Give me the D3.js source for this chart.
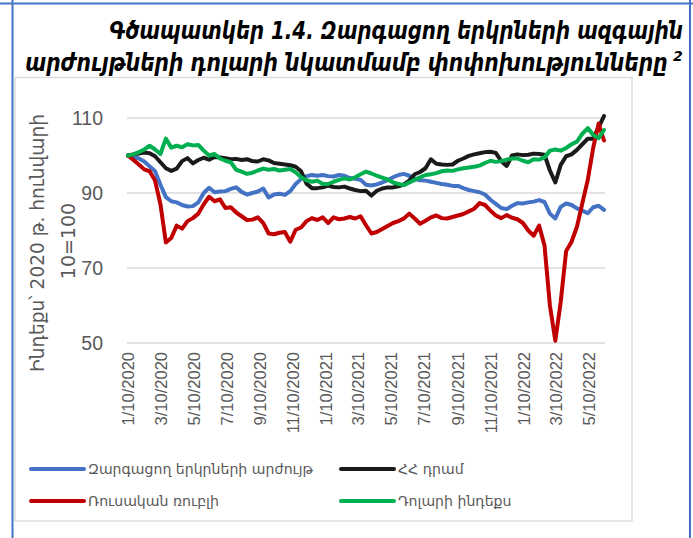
<!DOCTYPE html>
<html>
<head>
<meta charset="utf-8">
<title>Գծապատկեր 1.4</title>
<script src="https://cdn.jsdelivr.net/npm/d3@7/dist/d3.min.js"></script>
<style>
	body { margin: 0; background: #fff; }
	text { font-family: "DejaVu Sans", sans-serif; }
	.tick text { font-family: "Liberation Sans", sans-serif; fill: #595959; }
</style>
</head>
<body>
<script>
	// շարքերը՝ 10 օրը մեկ, 2020-01-10-ից
	var startDate = "2020-01-10";
	var stepDays = 10;

	var emerging = [100,99.7,99.2,98.4,97.1,95.8,92.2,88.9,87.8,87.5,86.8,86.4,86.5,87.5,90,91.4,90.2,90.4,90.5,91.1,
		91.5,90.3,89.6,90,90.4,91.2,88.8,89.6,89.8,89.5,90.5,92.4,93.7,94.5,94.8,94.6,94.8,94.5,94.4,94.8,
		94.6,94,93.8,93.5,92.2,92,92.3,92.8,93.4,94.2,94.8,95.1,94.6,93.8,93.4,93.3,93,92.7,92.4,92.2,
		91.9,91.9,91.3,90.8,90.5,90.2,89.6,88.2,87.1,86,85.7,86.6,87.3,87.2,87.5,87.7,88.1,87.6,84.5,83.2,
		86.3,87.2,86.8,85.9,85.3,84.6,86.2,86.6,85.5];
	var amd = [100,100.3,100.5,100.8,100.6,99.8,98.2,96.6,95.9,96.5,98.5,99.3,97.9,98.8,99.4,98.9,99.6,99.5,99.3,99,
		99.1,98.8,99,98.5,98.4,99,98.7,98,97.8,97.6,97.4,97,95.8,92.5,91.3,91.3,91.5,92,91.6,91.5,
		91.7,91.2,90.8,90.5,90.6,89.3,90.6,91.2,91.5,91.5,91.8,92.3,93.3,95,95.6,96.6,99,97.8,97.6,97.5,
		97.6,98.6,99.2,99.9,100.3,100.6,100.9,101,100.7,98.5,97.2,100,100.3,100.1,100.2,100.5,100.4,100.2,96,92.8,
		97.5,99.8,100.3,101.5,103,104.5,104.5,107.5,110.5];
	var rub = [100,98.8,97.6,96.3,95.8,93.3,87,76.8,78,81.3,80.5,82.5,83.3,84.5,87,89,87.8,88.3,86,86.2,
		84.8,83.8,82.8,82.9,83.5,82,79.2,79,79.4,79.6,77,80.2,80.8,82.5,83.3,82.8,83.5,82,83.5,83,
		83.2,83.6,83.2,83.8,81.4,79.2,79.6,80.4,81.2,82,82.5,83.2,84.5,83.2,81.8,82.6,83.5,84,83.3,83.2,
		83.6,84,84.4,85.1,85.8,87.3,86.8,85.3,84,83.3,84.1,83.4,83,82,80,78.6,81.3,76,60,50.6,
		61,74.5,77,81,87.3,93.5,102,108.5,104];
	var dxy = [100,100.3,100.9,101.6,102.6,101.6,100.4,104.5,102.1,102.6,102.2,103,102.7,102.8,101.3,100,100.4,99.2,98.6,98.2,
		96.2,95.7,95.1,95.4,96,96.5,96.2,96.4,96,96.2,96.4,95.5,94.2,93.4,93,93.3,92.4,92.4,93,93.5,
		93.9,93.6,94.2,95,95.7,95.2,94.6,94.1,93.6,92.8,92.4,92.1,92.8,93.5,94.2,94.8,95,95.3,95.8,96,
		95.9,96.3,96.6,96.8,97,97.3,98,98.6,98.3,98.5,98.9,99.2,99.2,98.6,98.2,99,98.9,99.5,101.3,101.6,
		101.3,102,103,103.7,105.8,107.3,105.5,104.6,106.8];

	var seriesNames = ["Զարգացող երկրների արժույթ", "ՀՀ դրամ", "Ռուսական ռուբլի", "Դոլարի ինդեքս"];
	var seriesColors = ["#4472C4", "#1a1a1a", "#C00000", "#00B050"];
	var seriesValues = [emerging, amd, rub, dxy];

	var yTicks = [50, 70, 90, 110];
	var xTickLabels = ["1/10/2020","3/10/2020","5/10/2020","7/10/2020","9/10/2020","11/10/2020",
		"1/10/2021","3/10/2021","5/10/2021","7/10/2021","9/10/2021","11/10/2021",
		"1/10/2022","3/10/2022","5/10/2022"];

	var titleLines = ["Գծապատկեր 1.4. Զարգացող երկրների ազգային", "արժույթների դոլարի նկատմամբ փոփոխությունները"];
	var yTitleLines = ["Ինդեքս՝ 2020 թ. հունվարի", "10=100"];

	var width = 693, height = 538;
	var plot = {left: 128, right: 604, top: 118, bottom: 343};

	var parseIso = d3.timeParse("%Y-%m-%d");
	var parseTick = d3.timeParse("%m/%d/%Y");
	var t0 = parseIso(startDate);
	var dates = emerging.map(function(d, i){ return d3.timeDay.offset(t0, i * stepDays); });

	var svg = d3.select("body").append("svg")
		.attr("width", width)
		.attr("height", height);

	// տեքստի չափը հարմարեցնել տրված լայնությանը
	function fitWidth(sel, target){
		var fs = +sel.attr("font-size");
		var w = sel.node().getComputedTextLength();
		if (w > 0) sel.attr("font-size", (fs * target / w).toFixed(2));
	}
	// նեղացված վերնագիր՝ բարձրությունը պահելով
	function squeeze(sel, x0, y0, target, anchorEnd){
		var w = sel.node().getComputedTextLength();
		var k = w > 0 ? target / w : 1;
		sel.attr("x", 0).attr("y", 0)
			.attr("transform", "translate(" + x0 + "," + y0 + ") scale(" + k.toFixed(4) + ",1)");
	}

	// կապույտ շրջանակ
	svg.append("line").attr("x1", 0).attr("x2", width).attr("y1", 3.5).attr("y2", 3.5)
		.attr("stroke", "#4472C4").attr("stroke-width", 2);
	svg.append("line").attr("x1", 12.5).attr("x2", 12.5).attr("y1", 0).attr("y2", height)
		.attr("stroke", "#4472C4").attr("stroke-width", 2);
	svg.append("line").attr("x1", 690).attr("x2", 690).attr("y1", 0).attr("y2", height)
		.attr("stroke", "#4472C4").attr("stroke-width", 2);

	svg.append("rect")
		.attr("x", 15).attr("y", 77.5).attr("width", 617).attr("height", 443.5)
		.attr("fill", "#fff").attr("stroke", "#d9d9d9").attr("stroke-width", 1.3);

	// վերնագիր
	var title = svg.append("g")
		.attr("font-weight", "bold")
		.attr("font-style", "italic")
		.attr("font-family", "DejaVu Sans Condensed");
	var t1 = title.append("text")
		.attr("text-anchor", "end")
		.attr("font-size", 24)
		.text(titleLines[0]);
	squeeze(t1, 683, 39, 574);
	var t2 = title.append("text")
		.attr("font-size", 24)
		.text(titleLines[1]);
	squeeze(t2, 25, 71, 643);
	title.append("text")
		.attr("x", 673).attr("y", 61)
		.attr("font-size", 14)
		.text("2");

	var x = d3.scaleTime()
		.domain([dates[0], dates[dates.length - 1]])
		.range([plot.left, plot.right]);
	var y = d3.scaleLinear()
		.domain([50, 110])
		.range([plot.bottom, plot.top]);

	// ցանց
	svg.append("g")
		.selectAll("line")
		.data(yTicks)
		.enter()
		.append("line")
		.attr("x1", plot.left - 1).attr("x2", plot.right + 1)
		.attr("y1", function(d){ return y(d); })
		.attr("y2", function(d){ return y(d); })
		.attr("stroke", "#d9d9d9").attr("stroke-width", 1.3);

	var yAxis = svg.append("g")
		.attr("transform", "translate(" + (plot.left - 18) + ",0)")
		.call(d3.axisLeft(y).tickValues(yTicks).tickSize(0).tickPadding(7));
	yAxis.select(".domain").remove();
	yAxis.selectAll("text").attr("font-size", 19.5);

	var xAxis = svg.append("g")
		.attr("transform", "translate(0," + plot.bottom + ")")
		.call(d3.axisBottom(x)
			.tickValues(xTickLabels.map(parseTick))
			.tickFormat(function(d, i){ return xTickLabels[i]; })
			.tickSize(0));
	xAxis.select(".domain").remove();
	xAxis.selectAll("text")
		.attr("font-size", 16.5)
		.attr("text-anchor", "end")
		.attr("transform", "rotate(-90)")
		.attr("x", -9)
		.attr("y", 0)
		.attr("dy", "0.36em");

	// y առանցքի անվանում
	var yTitle = svg.append("g")
		.attr("fill", "#595959");
	var yt1 = yTitle.append("text")
		.attr("transform", "translate(44,243) rotate(-90)")
		.attr("text-anchor", "middle")
		.attr("font-size", 17)
		.text(yTitleLines[0]);
	fitWidth(yt1, 258);
	yTitle.append("text")
		.attr("transform", "translate(75,241) rotate(-90)")
		.attr("text-anchor", "middle")
		.attr("font-family", "Liberation Sans")
		.attr("font-size", 19)
		.text(yTitleLines[1]);

	// գծեր
	var line = d3.line()
		.x(function(d, i){ return x(dates[i]); })
		.y(function(d){ return y(d); });

	svg.append("g")
		.selectAll("path")
		.data(seriesValues)
		.enter()
		.append("path")
		.attr("d", line)
		.attr("fill", "none")
		.attr("stroke", function(d, i){ return seriesColors[i]; })
		.attr("stroke-width", 4)
		.attr("stroke-linejoin", "round")
		.attr("stroke-linecap", "round");

	// լեգենդ
	var legendPos = [{x: 31, y: 469}, {x: 341, y: 469}, {x: 31, y: 501}, {x: 341, y: 501}];
	var legend = svg.append("g")
		.selectAll("g")
		.data(seriesNames)
		.enter()
		.append("g")
		.attr("transform", function(d, i){ return "translate(" + legendPos[i].x + "," + legendPos[i].y + ")"; });
	legend.append("line")
		.attr("x1", 0).attr("x2", 53)
		.attr("stroke", function(d, i){ return seriesColors[i]; })
		.attr("stroke-width", 4)
		.attr("stroke-linecap", "round");
	legend.append("text")
		.attr("x", 57)
		.attr("dy", "0.35em")
		.attr("font-size", 14.1)
		.attr("fill", "#595959")
		.text(function(d){ return d; });
</script>
</body>
</html>
